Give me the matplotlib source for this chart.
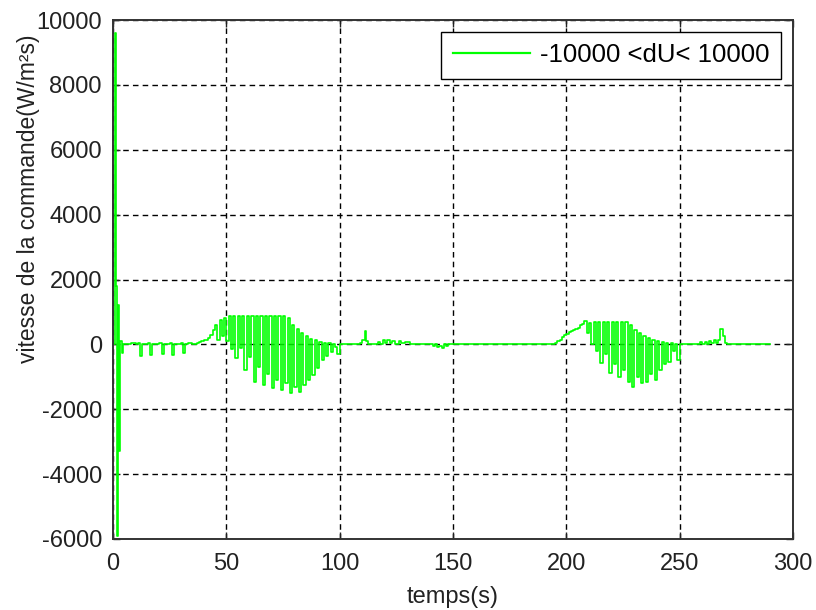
import numpy as np
import matplotlib.pyplot as plt

# commande speed dU (W/m2s) vs time (s)
t_start = [0, 0.8, 1.1, 1.7, 2.3, 2.6, 3.0, 3.8, 4.6, 6, 8, 10, 11, 11.9, 12.8, 14,
           15.5, 16.3, 17.2, 19, 20.5, 21.5, 22.4, 24, 25, 25.9, 26.8, 28.5, 30, 31.0,
           31.9, 33, 35, 36, 37, 38, 39, 40, 41, 42, 43]
u_start = [0, 9600, 1800, -5900, 1200, -3300, 100, -260, 0, 0, 30, 0, 40, -370, 0, 20,
           40, -330, 0, 20, 40, -300, 0, 10, 30, -320, 0, 20, 40, -280,
           0, 30, 0, 20, 40, 60, 90, 120, 150, 200, 300]

t_burst1 = [44, 45, 46, 47, 48, 49, 50, 51, 52, 53, 54, 55, 56, 57, 58, 59, 60, 61,
            62, 63, 64, 65, 66, 67, 68, 69, 70, 71, 72, 73, 74, 75, 76, 77, 78, 79,
            80, 81, 82, 83, 84, 85, 86, 87, 88, 89, 90, 91, 92, 93, 94, 95, 96, 97,
            98, 99, 100]
u_burst1 = [450, 600, 150, 750, 250, 820, 100, 860, -150, 870, -420, 870, -100, 870,
            -790, 870, -400, 870, -1160, 870, -700, 870, -1250, 870, -900, 870, -1340,
            870, -1100, 870, -1400, 860, -1200, 820, -1500, 600, -1300, 480, -1470,
            350, -1250, 260, -1100, 180, -940, 120, -730, 80, -480, 50, -350, 40,
            -220, 20, -80, -300, 0]

t_mid = [108, 109, 110, 111, 111.6, 112.5, 116, 117, 118, 119, 120, 121, 122, 123,
         124.5, 126, 127, 129, 131, 140, 141, 142, 143, 144, 145, 146, 147, 148,
         194, 195, 196, 197, 198, 199, 200, 201, 202, 203, 204, 205, 206, 207]
u_mid = [0, 50, 150, 400, 100, 0, 0, 80, 20, 120, 30, 130, 40, 100,
         20, 100, 30, 60, 0, 0, -60, 20, -80, -40, -100, 20, -60, 0,
         0, 50, 100, 150, 220, 280, 330, 380, 420, 450, 480, 520, 600, 620]

t_burst2 = [208, 209, 210, 211, 212, 213, 214, 215, 216, 217, 218, 219, 220, 221,
            222, 223, 224, 225, 226, 227, 228, 229, 230, 231, 232, 233, 234, 235,
            236, 237, 238, 239, 240, 241, 242, 243, 244, 245, 246, 247, 248, 249,
            250]
u_burst2 = [720, 350, 650, 0, 700, -200, 700, -570, 700, -300, 700, -880, 700, -600,
            700, -1000, 700, -800, 700, -1150, 600, -1310, 450, -1000, 340, -1200,
            250, -1150, 200, -900, 150, -1100, 100, -790, 80, -600, 50, -530, 30,
            -200, 0, -480, 0]

t_end = [258, 259, 260, 261, 262, 263, 264, 265, 266, 267, 268, 269, 270, 271, 290]
u_end = [0, 60, 0, 80, 20, 100, 30, 120, 50, 150, 480, 250, 30, 0, 0]

t = np.array(t_start + t_burst1 + t_mid + t_burst2 + t_end)
du = np.array(u_start + u_burst1 + u_mid + u_burst2 + u_end)

plt.rcParams['font.family'] = ['Liberation Sans', 'DejaVu Sans']
plt.rcParams['axes.unicode_minus'] = False

fig = plt.figure(figsize=(8.16, 6.10), dpi=100)
ax = fig.add_axes([0.1385, 0.1164, 0.8333, 0.8508])

ax.plot(t, du, color='#00ff00', linewidth=1.2, drawstyle='steps-post',
        label='-10000 <dU< 10000')

ax.set_xlim(0, 300)
ax.set_ylim(-6000, 10000)
ax.set_xticks(range(0, 301, 50))
ax.set_yticks(range(-6000, 10001, 2000))
ax.grid(True, color='black', linestyle=(0, (4, 3)), linewidth=1.0)
ax.tick_params(direction='in', length=5, width=1, labelsize=17,
               top=True, right=True, colors='#222222', labelcolor='#222222')
ax.tick_params(axis='x', pad=10)
ax.tick_params(axis='y', pad=8)
for s in ax.spines.values():
    s.set_linewidth(1.4)
    s.set_color('#333333')

ax.set_xlabel('temps(s)', fontsize=17, color='#222222', labelpad=8)
ax.set_ylabel('vitesse de la commande(W/m²s)', fontsize=16.5, color='#222222')
ax.yaxis.set_label_coords(-0.107, 0.655)

leg = ax.legend(loc='upper right', fontsize=18.5, fancybox=False, framealpha=1,
                edgecolor='black', handlelength=3.0, handletextpad=0.4,
                borderpad=0.45, borderaxespad=0.45)
leg.get_frame().set_linewidth(1.0)
leg.get_lines()[0].set_linewidth(1.6)

fig.savefig('out.png', dpi=100)
